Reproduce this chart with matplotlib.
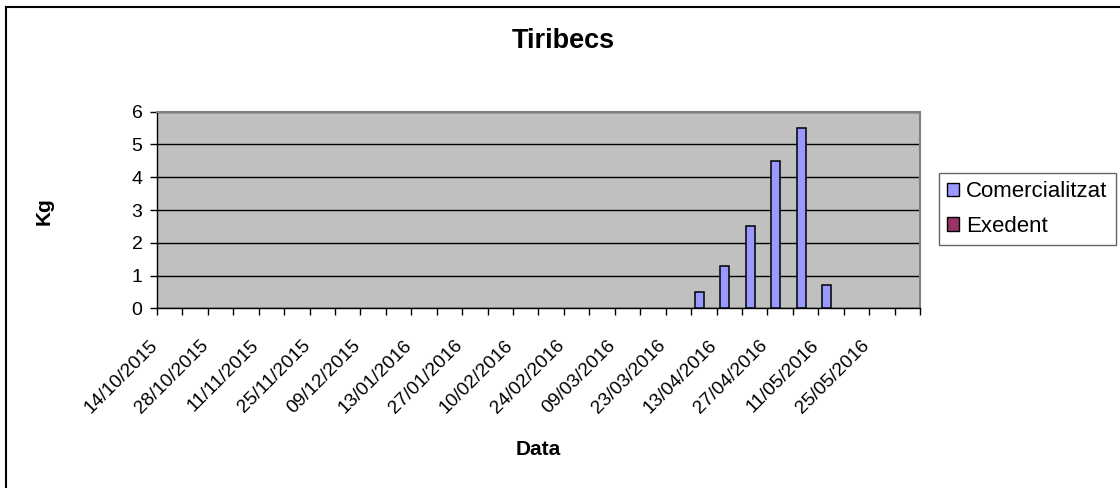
import matplotlib.pyplot as plt
import matplotlib.transforms as mtransforms
import numpy as np
from matplotlib.lines import Line2D
from matplotlib.patches import Patch

plt.rcParams["font.family"] = ["Liberation Sans", "DejaVu Sans"]

# weekly categories (only every second one is labelled on the axis)
dates = [
    "14/10/2015", "21/10/2015", "28/10/2015", "04/11/2015", "11/11/2015",
    "18/11/2015", "25/11/2015", "02/12/2015", "09/12/2015", "16/12/2015",
    "13/01/2016", "20/01/2016", "27/01/2016", "03/02/2016", "10/02/2016",
    "17/02/2016", "24/02/2016", "02/03/2016", "09/03/2016", "16/03/2016",
    "23/03/2016", "06/04/2016", "13/04/2016", "20/04/2016", "27/04/2016",
    "04/05/2016", "11/05/2016", "18/05/2016", "25/05/2016", "01/06/2016",
]
comercialitzat = [0] * 21 + [0.5, 1.3, 2.5, 4.5, 5.5, 0.7, 0, 0, 0]
exedent = [0] * 30

x = np.arange(len(dates))
w = 0.35
com_c, exe_c = "#9999FF", "#993366"

fig = plt.figure(figsize=(11.2, 4.88), dpi=100)
ax = fig.add_axes([0.1402, 0.3682, 0.8214 - 0.1402, 0.7711 - 0.3682])
ax.set_facecolor("#C0C0C0")

# zero-height bars get no outline, like the original
ax.bar(x - w / 2, comercialitzat, w, color=com_c,
       edgecolor=["black" if v > 0 else "none" for v in comercialitzat],
       linewidth=1.1, zorder=3)
ax.bar(x + w / 2, exedent, w, color=exe_c,
       edgecolor=["black" if v > 0 else "none" for v in exedent],
       linewidth=1.1, zorder=3)

ax.set_xlim(-0.5, len(dates) - 0.5)
ax.set_ylim(0, 6)
ax.set_yticks(range(7))
ax.yaxis.grid(True, color="black", linewidth=1.0, zorder=1)
ax.set_axisbelow(True)

ax.set_xticks(x[::2])
ax.set_xticklabels(dates[::2], rotation=45, ha="right", va="center",
                   rotation_mode="anchor")
ax.set_xticks(np.arange(-0.5, len(dates)), minor=True)
ax.tick_params(axis="x", which="major", length=0, pad=25, labelsize=13.8)
ax.tick_params(axis="x", which="minor", length=5, width=1, direction="out")
ax.tick_params(axis="y", length=5, width=1, labelsize=14, pad=5.5)
shift = mtransforms.ScaledTranslation(-15 / 100, 0, fig.dpi_scale_trans)
for lab in ax.get_xticklabels():
    lab.set_transform(lab.get_transform() + shift)

for s in ["top", "right"]:
    ax.spines[s].set_color("#808080")
    ax.spines[s].set_linewidth(1.5)
for s in ["left", "bottom"]:
    ax.spines[s].set_color("black")
    ax.spines[s].set_linewidth(1.0)

fig.text(0.503, 0.916, "Tiribecs", ha="center", va="center",
         fontsize=19.5, fontweight="bold")
fig.text(0.039, 0.568, "Kg", ha="center", va="center", rotation=90,
         fontsize=15, fontweight="bold")
fig.text(0.4805, 0.078, "Data", ha="center", va="center",
         fontsize=15, fontweight="bold")

handles = [Patch(facecolor=com_c, edgecolor="black", linewidth=1.0),
           Patch(facecolor=exe_c, edgecolor="black", linewidth=1.0)]
leg = fig.legend(handles, ["Comercialitzat", "Exedent"], loc="upper left",
                 bbox_to_anchor=(0.838, 0.6455), fontsize=16, frameon=True,
                 fancybox=False, handlelength=0.55, handleheight=0.55,
                 handletextpad=0.3, borderpad=0.38, labelspacing=0.6,
                 borderaxespad=0)
leg.get_frame().set_edgecolor("#404040")
leg.get_frame().set_linewidth(1.0)

# outer chart border (top and left visible)
fig.add_artist(Line2D([6 / 1120, 6 / 1120], [0, 1 - 7 / 488], color="black",
                      linewidth=1.5, transform=fig.transFigure))
fig.add_artist(Line2D([6 / 1120, 1], [1 - 7 / 488, 1 - 7 / 488], color="black",
                      linewidth=1.5, transform=fig.transFigure))

fig.savefig("out.png", dpi=100)
